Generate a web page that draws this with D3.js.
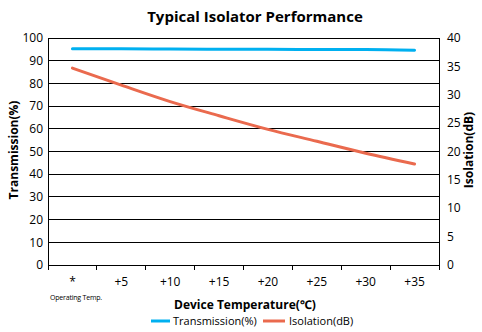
<!DOCTYPE html>
<html><head><meta charset="utf-8">
<script src="https://cdn.jsdelivr.net/npm/d3@7"></script>
<style>
body{margin:0;background:#fff;}
text{font-family:"Open Sans","Noto Sans",sans-serif;fill:#000;}
</style></head>
<body><svg id="c" width="482" height="332"></svg>
<script>
const categories = ["*", "+5", "+10", "+15", "+20", "+25", "+30", "+35"];
const transmission = [95.3, 95.3, 95.1, 95.0, 95.0, 94.9, 94.9, 94.6];
const isolation = [34.7, 31.7, 28.8, 26.3, 23.9, 21.8, 19.7, 17.8];
const leftTicks = [0,10,20,30,40,50,60,70,80,90,100];
const rightTicks = [0,5,10,15,20,25,30,35,40];

const svg = d3.select("#c");
const L = 48, R = 439, T = 38, B = 265;
const x = d3.scaleBand().domain(categories).range([L, R]);
const yL = d3.scaleLinear().domain([0,100]).range([B, T]);
const yR = d3.scaleLinear().domain([0,40]).range([B, T]);

// gridlines
svg.append("g").selectAll("line").data(leftTicks).join("line")
  .attr("x1", L).attr("x2", R).attr("y1", d=>yL(d)).attr("y2", d=>yL(d))
  .attr("stroke", "#000").attr("stroke-width", 1).attr("shape-rendering","crispEdges");
// plot border
svg.append("rect").attr("x", L).attr("y", T).attr("width", R-L).attr("height", B-T)
  .attr("fill","none").attr("stroke","#000").attr("shape-rendering","crispEdges");

// x tick marks at band boundaries
const bounds = categories.map(c=>x(c)).concat([R]);
svg.append("g").selectAll("line").data(bounds).join("line")
  .attr("x1", d=>d).attr("x2", d=>d).attr("y1", B).attr("y2", B+5)
  .attr("stroke","#000").attr("shape-rendering","crispEdges");

// left axis labels
svg.append("g").selectAll("text").data(leftTicks).join("text")
  .attr("x", L-5).attr("y", d=>yL(d)).attr("dy","0.35em")
  .attr("text-anchor","end").style("font-size","12px").text(d=>d);
// right axis labels
svg.append("g").selectAll("text").data(rightTicks).join("text")
  .attr("x", R+8).attr("y", d=>yR(d)).attr("dy","0.35em")
  .attr("text-anchor","start").style("font-size","12px").text(d=>d);
// x labels
svg.append("g").selectAll("text").data(categories).join("text")
  .attr("x", d=>x(d)+x.bandwidth()/2).attr("y", 286)
  .attr("text-anchor","middle").style("font-size","12px").text(d=>d);

svg.append("text").attr("x", 50).attr("y", 300).style("font-size","7px")
  .style("letter-spacing","-0.2px").text("Operating Temp.");

// title
svg.append("text").attr("x", 255).attr("y", 22).attr("text-anchor","middle")
  .style("font-size","15px").style("font-weight","bold").text("Typical Isolator Performance");
// axis titles
svg.append("text").attr("transform","translate(18,150) rotate(-90)").attr("text-anchor","middle")
  .style("font-size","12px").style("font-weight","bold").text("Transmission(%)");
svg.append("text").attr("transform","translate(473,150) rotate(-90)").attr("text-anchor","middle")
  .style("font-size","12px").style("font-weight","bold").text("Isolation(dB)");
svg.append("text").attr("x", 245).attr("y", 309).attr("text-anchor","middle")
  .style("font-size","12px").style("font-weight","bold").text("Device Temperature(℃)");

const cx = c => x(c) + x.bandwidth()/2;
const lineL = d3.line().x((d,i)=>cx(categories[i])).y(d=>yL(d)).curve(d3.curveMonotoneX);
const lineR = d3.line().x((d,i)=>cx(categories[i])).y(d=>yR(d)).curve(d3.curveMonotoneX);
svg.append("path").attr("d", lineL(transmission)).attr("fill","none")
  .attr("stroke","#00b0f0").attr("stroke-width",3).attr("stroke-linecap","round");
svg.append("path").attr("d", lineR(isolation)).attr("fill","none")
  .attr("stroke","#ea6a4e").attr("stroke-width",3).attr("stroke-linecap","round");

// legend
const lg = svg.append("g");
lg.append("line").attr("x1",151).attr("x2",170).attr("y1",321).attr("y2",321)
  .attr("stroke","#00b0f0").attr("stroke-width",3);
lg.append("text").attr("x",173).attr("y",321).attr("dy","0.35em").style("font-size","11px").text("Transmission(%)");
lg.append("line").attr("x1",263).attr("x2",285).attr("y1",321).attr("y2",321)
  .attr("stroke","#ea6a4e").attr("stroke-width",3);
lg.append("text").attr("x",289).attr("y",321).attr("dy","0.35em").style("font-size","11px").text("Isolation(dB)");
</script></body></html>
